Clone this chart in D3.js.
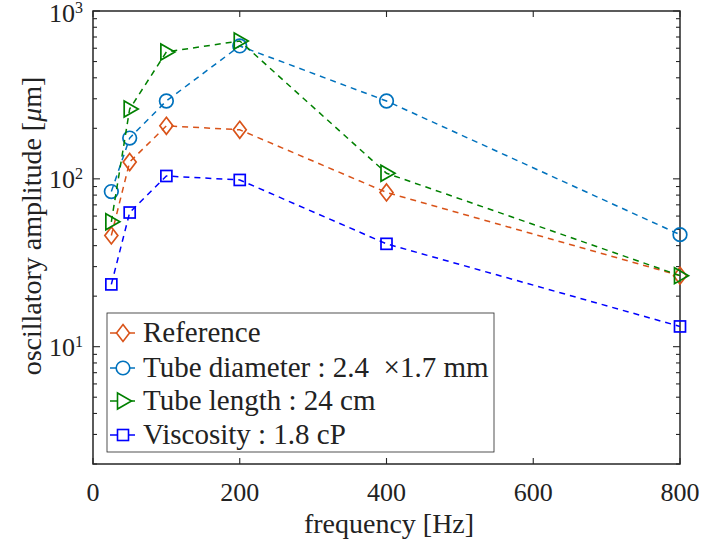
<html>
<script src="https://cdnjs.cloudflare.com/ajax/libs/d3/7.8.5/d3.min.js"></script>
<style>
  body { margin: 0; background: #fff; }
  text { font-family: "Liberation Serif", "Times New Roman", serif; fill: #222; }
</style>
<body>
  <svg width="701" height="548"></svg>
</body>
</html>
<script>
  const freq = [25, 50, 100, 200, 400, 800];
  const reference = [46, 126, 207, 196, 83, 26.5];
  const tubeDiameter = [84, 175, 291, 619, 291, 46.5];
  const tubeLength = [55.5, 261, 570, 663, 108, 26.5];
  const viscosity = [23.5, 63, 104, 98.5, 41, 13.2];
  const xTicks = [0, 200, 400, 600, 800];
  const yTicks = [10, 100, 1000];

  const series = [
    { name: 'Reference', vals: reference, color: '#D95319', marker: 'diamond' },
    { name: 'Tube diameter : 2.4 \u00a0\u00d71.7 mm', vals: tubeDiameter, color: '#0072BD', marker: 'circle' },
    { name: 'Tube length : 24 cm', vals: tubeLength, color: '#008000', marker: 'triangle' },
    { name: 'Viscosity : 1.8 cP', vals: viscosity, color: '#0000FF', marker: 'square' }
  ];

  const pLeft = 93, pRight = 680, pTop = 11, pBottom = 464;
  const svg = d3.select('svg');

  const x = d3.scaleLinear().domain([0, 800]).range([pLeft, pRight]);
  const y = d3.scaleLog().domain([2, 1000]).range([pBottom, pTop]);

  // minor ticks on log axis
  const minor = [];
  for (let d = 1; d <= 100; d *= 10) {
    for (let k = 1; k <= 9; k++) {
      const v = d * k;
      if (v >= 2 && v <= 1000 && yTicks.indexOf(v) < 0) minor.push(v);
    }
  }

  const axis = svg.append('g').attr('stroke', '#262626').attr('stroke-width', 1.1);
  xTicks.forEach(t => {
    axis.append('line').attr('x1', x(t)).attr('x2', x(t)).attr('y1', pBottom).attr('y2', pBottom - 6);
    axis.append('line').attr('x1', x(t)).attr('x2', x(t)).attr('y1', pTop).attr('y2', pTop + 6);
  });
  yTicks.forEach(t => {
    axis.append('line').attr('x1', pLeft).attr('x2', pLeft + 7).attr('y1', y(t)).attr('y2', y(t));
    axis.append('line').attr('x1', pRight).attr('x2', pRight - 7).attr('y1', y(t)).attr('y2', y(t));
  });
  minor.forEach(t => {
    axis.append('line').attr('x1', pLeft).attr('x2', pLeft + 4).attr('y1', y(t)).attr('y2', y(t));
    axis.append('line').attr('x1', pRight).attr('x2', pRight - 4).attr('y1', y(t)).attr('y2', y(t));
  });
  axis.append('rect').attr('x', pLeft).attr('y', pTop).attr('width', pRight - pLeft).attr('height', pBottom - pTop)
    .attr('fill', 'none').attr('stroke-width', 1.5);

  // tick labels
  svg.selectAll('.xt').data(xTicks).enter().append('text')
    .attr('x', d => x(d)).attr('y', pBottom + 37).attr('text-anchor', 'middle')
    .attr('font-size', 26).text(d => d);

  yTicks.forEach(t => {
    const tx = svg.append('text').attr('x', 83).attr('y', Math.max(y(t) + 9, 22))
      .attr('text-anchor', 'end').attr('font-size', 26);
    tx.append('tspan').text('10');
    tx.append('tspan').attr('font-size', 16).attr('dy', -9).text(Math.round(Math.log10(t)));
  });

  svg.append('text').attr('x', 389).attr('y', 533).attr('text-anchor', 'middle')
    .attr('font-size', 28).text('frequency [Hz]');

  const yl = svg.append('text').attr('transform', 'translate(41, 226) rotate(-90)')
    .attr('text-anchor', 'middle').attr('font-size', 28);
  yl.append('tspan').text('oscillatory amplitude [');
  yl.append('tspan').attr('font-style', 'italic').text('\u03bc');
  yl.append('tspan').text('m]');

  function drawMarker(g, type, cx, cy) {
    if (type === 'diamond') {
      g.append('path').attr('d', `M${cx},${cy - 8.5}L${cx + 6.5},${cy}L${cx},${cy + 8.5}L${cx - 6.5},${cy}Z`);
    } else if (type === 'circle') {
      g.append('circle').attr('cx', cx).attr('cy', cy).attr('r', 6.8);
    } else if (type === 'triangle') {
      g.append('path').attr('d', `M${cx - 5.5},${cy - 8}L${cx + 8.5},${cy}L${cx - 5.5},${cy + 8}Z`);
    } else {
      g.append('rect').attr('x', cx - 5.5).attr('y', cy - 5.5).attr('width', 11).attr('height', 11);
    }
  }

  const line = d3.line().x(d => x(d[0])).y(d => y(d[1]));

  series.forEach(s => {
    const pts = freq.map((f, i) => [f, s.vals[i]]);
    svg.append('path').datum(pts).attr('d', line).attr('fill', 'none')
      .attr('stroke', s.color).attr('stroke-width', 1.5).attr('stroke-dasharray', '6,5');
    const g = svg.append('g').attr('fill', 'none').attr('stroke', s.color).attr('stroke-width', 1.7);
    pts.forEach(p => drawMarker(g, s.marker, x(p[0]), y(p[1])));
  });

  // legend
  const lg = svg.append('g');
  lg.append('rect').attr('x', 107).attr('y', 313).attr('width', 387).attr('height', 139)
    .attr('fill', '#fff').attr('stroke', '#262626').attr('stroke-width', 0.8);
  const rowY = [333, 368, 401, 435];
  series.forEach((s, i) => {
    const yy = rowY[i];
    lg.append('line').attr('x1', 110).attr('x2', 135).attr('y1', yy).attr('y2', yy)
      .attr('stroke', s.color).attr('stroke-width', 1.5);
    const g = lg.append('g').attr('fill', '#fff').attr('stroke', s.color).attr('stroke-width', 1.6);
    drawMarker(g, s.marker, 123, yy);
    lg.append('text').attr('x', 143).attr('y', yy + 9).attr('font-size', 29).text(s.name);
  });
</script>
